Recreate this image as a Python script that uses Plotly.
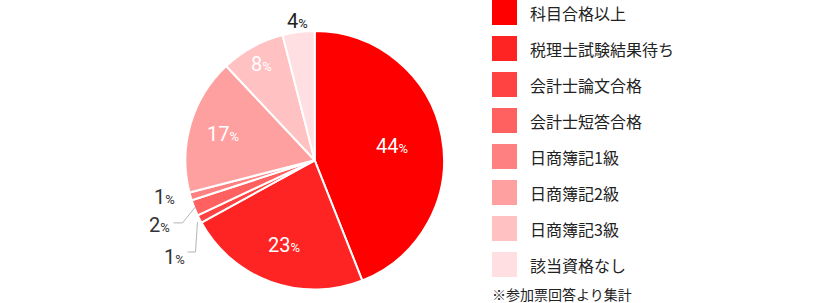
import math
import plotly.graph_objects as go

# ---- data ----
labels = ["科目合格以上", "税理士試験結果待ち", "会計士論文合格", "会計士短答合格",
          "日商簿記1級", "日商簿記2級", "日商簿記3級", "該当資格なし"]
values = [44, 23, 1, 2, 1, 17, 8, 4]
colors = ["#ff0000", "#ff2424", "#ff4242", "#ff6060",
          "#ff8080", "#ffa0a0", "#ffc1c1", "#ffdfe1"]
footnote = "※参加票回答より集計"

# ---- label styles (how each slice's value label is drawn) ----
label_style = [("in", 0.61), ("in", 0.70), ("leader_low", None), ("leader_mid", None),
               ("left", None), ("in", 0.74), ("in", 0.85), ("out", 1.085)]

W, H = 820, 303
CX, CY, R = 314.7, 160.3, 129.3   # pie centre / radius in px

def px(x):
    return x / W

def py(y):
    return 1 - y / H

NUM_FONT = "Roboto"

fig = go.Figure()
fig.add_trace(go.Pie(
    labels=labels, values=values, sort=False, direction="clockwise", rotation=0,
    marker=dict(colors=colors, line=dict(color="#ffffff", width=2)),
    textinfo="none", hoverinfo="label+percent",
    domain=dict(x=[px(CX - R), px(CX + R)], y=[py(CY + R), py(CY - R)]),
    showlegend=False,
))

annotations = []
shapes = []

total = sum(values)
cum = 0
for v, (kind, frac) in zip(values, label_style):
    mid = (cum + v / 2) / total * 2 * math.pi
    cum += v
    ux, uy = math.sin(mid), -math.cos(mid)
    txt = f"{v}<span style='font-size:13px'>%</span>"
    if kind in ("in", "out"):
        x = CX + ux * R * frac
        y = CY + uy * R * frac
        annotations.append(dict(
            x=px(x), y=py(y), xref="paper", yref="paper", text=txt, showarrow=False,
            xanchor="center", yanchor="middle", borderpad=0, borderwidth=0,
            font=dict(family=NUM_FONT, size=20,
                      color="#ffffff" if kind == "in" else "#222222"),
        ))
    else:
        ex, ey = CX + ux * R, CY + uy * R
        if kind == "leader_low":
            pts = [(ex - 2, ey + 3), (ex - 4, ey + 33), (ex - 12, ey + 33)]
            lx, ly = ex - 14, ey + 38
        elif kind == "leader_mid":
            pts = [(ex + 1, ey - 1), (ex - 12, ey + 15), (ex - 21, ey + 15)]
            lx, ly = ex - 24, ey + 17
        else:
            pts = None
            lx, ly = ex - 16, ey + 0.5
        if pts:
            path = "M " + " L ".join(f"{px(a):.5f},{py(b):.5f}" for a, b in pts)
            shapes.append(dict(type="path", xref="paper", yref="paper", path=path,
                               line=dict(color="#b5b5b5", width=1)))
        annotations.append(dict(
            x=px(lx), y=py(ly), xref="paper", yref="paper", text=txt, showarrow=False,
            xanchor="right", yanchor="middle", borderpad=0, borderwidth=0,
            font=dict(family=NUM_FONT, size=20, color="#333333"),
        ))

# ---- custom legend ----
LEG_X, LEG_TXT_X, LEG_STEP, SQ = 492, 530, 36, 25
for i, (lab, col) in enumerate(zip(labels, colors)):
    top = i * LEG_STEP
    shapes.append(dict(type="rect", xref="paper", yref="paper",
                       x0=px(LEG_X), x1=px(LEG_X + SQ), y0=py(top + SQ), y1=py(top),
                       fillcolor=col, line=dict(width=0)))
    annotations.append(dict(
        x=px(LEG_TXT_X), y=py(top + SQ / 2), xref="paper", yref="paper", text=lab,
        showarrow=False, xanchor="left", yanchor="middle", borderpad=0, borderwidth=0,
        font=dict(family="Noto Sans CJK JP", size=16, color="#222222"),
    ))

annotations.append(dict(
    x=px(LEG_X), y=py(294), xref="paper", yref="paper", text=footnote,
    showarrow=False, xanchor="left", yanchor="middle", borderpad=0, borderwidth=0,
    font=dict(family="Noto Sans CJK JP", size=14, color="#222222"),
))

fig.update_layout(
    width=W, height=H, margin=dict(l=0, r=0, t=0, b=0),
    paper_bgcolor="#ffffff", plot_bgcolor="#ffffff",
    annotations=annotations, shapes=shapes, showlegend=False,
)

fig.write_html("out.html")
